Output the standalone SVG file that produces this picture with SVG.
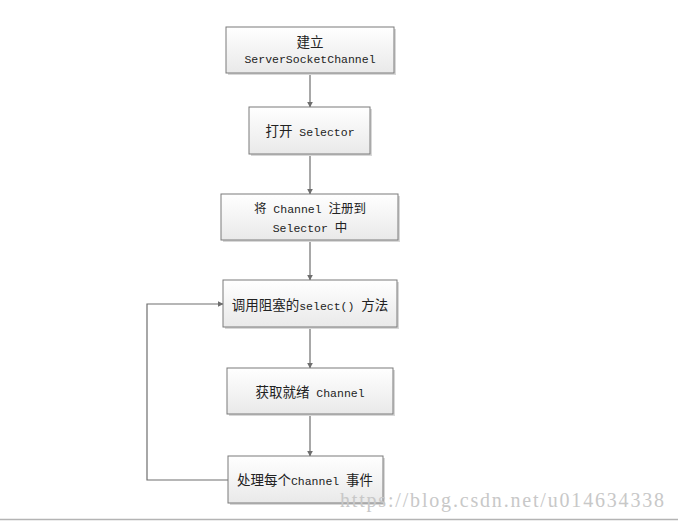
<svg xmlns="http://www.w3.org/2000/svg" width="678" height="521" viewBox="0 0 678 521">
  <style>
    .box { fill: url(#boxFill); stroke: #7a7a7a; stroke-width: 1; }
    .shadow { fill: #d8d8d8; }
    .lbl { font-family: "Liberation Mono", "Noto Sans CJK SC", monospace; font-size: 11.5px; fill: #222; text-anchor: middle; }
    .cjk { font-family: "Noto Sans CJK SC", sans-serif; font-size: 13.5px; }
    .cjk-s { font-family: "Noto Sans CJK SC", sans-serif; font-size: 12.5px; }
    .wire { fill: none; stroke: #6e6e6e; stroke-width: 1.2; }
    .mark { font-family: "Liberation Serif", "DejaVu Serif", serif; font-size: 20px; fill: #c8c8c8; }
  </style>
  <defs>
    <linearGradient id="boxFill" x1="0" y1="0" x2="0" y2="1">
      <stop offset="0" stop-color="#ffffff"/>
      <stop offset="1" stop-color="#e9e9e9"/>
    </linearGradient>
    <marker id="arrow" viewBox="0 0 10 10" refX="9" refY="5" markerWidth="6" markerHeight="6" orient="auto" markerUnits="userSpaceOnUse">
      <path d="M0,0 L10,5 L0,10 z" fill="#6e6e6e"/>
    </marker>
  </defs>

  <rect width="678" height="521" fill="#ffffff"/>

  <g id="connectors">
    <line class="wire" x1="310" y1="74" x2="310" y2="107" marker-end="url(#arrow)"/>
    <line class="wire" x1="310" y1="155" x2="310" y2="194" marker-end="url(#arrow)"/>
    <line class="wire" x1="310" y1="241" x2="310" y2="280" marker-end="url(#arrow)"/>
    <line class="wire" x1="310" y1="328" x2="310" y2="368" marker-end="url(#arrow)"/>
    <line class="wire" x1="310" y1="415" x2="310" y2="456" marker-end="url(#arrow)"/>
    <polyline class="wire" points="228,480 147,480 147,304 223,304" marker-end="url(#arrow)"/>
  </g>

  <g id="node-create">
    <rect class="shadow" x="228" y="29" width="168" height="46"/>
    <rect class="box" x="226" y="27" width="168" height="46"/>
    <text class="lbl" x="310" y="47"><tspan class="cjk">建立</tspan></text>
    <text class="lbl" x="310" y="63">ServerSocketChannel</text>
  </g>

  <g id="node-open">
    <rect class="shadow" x="251" y="109" width="121" height="47"/>
    <rect class="box" x="249" y="107" width="121" height="47"/>
    <text class="lbl" x="310" y="136"><tspan class="cjk">打开</tspan> Selector</text>
  </g>

  <g id="node-register">
    <rect class="shadow" x="223" y="196" width="177" height="46"/>
    <rect class="box" x="221" y="194" width="177" height="46"/>
    <text class="lbl" x="310" y="213"><tspan class="cjk-s">将</tspan> Channel <tspan class="cjk-s">注册到</tspan></text>
    <text class="lbl" x="310" y="232">Selector <tspan class="cjk-s">中</tspan></text>
  </g>

  <g id="node-select">
    <rect class="shadow" x="225" y="282" width="174" height="47"/>
    <rect class="box" x="223" y="280" width="174" height="47"/>
    <text class="lbl" x="310" y="310"><tspan class="cjk">调用阻塞的</tspan>select() <tspan class="cjk">方法</tspan></text>
  </g>

  <g id="node-ready">
    <rect class="shadow" x="229" y="370" width="166" height="46"/>
    <rect class="box" x="227" y="368" width="166" height="46"/>
    <text class="lbl" x="310" y="397"><tspan class="cjk">获取就绪</tspan> Channel</text>
  </g>

  <g id="node-handle">
    <rect class="shadow" x="230" y="458" width="155" height="47"/>
    <rect class="box" x="228" y="456" width="155" height="47"/>
    <text class="lbl" x="305" y="485"><tspan class="cjk">处理每个</tspan>Channel <tspan class="cjk">事件</tspan></text>
  </g>

  <text class="mark" x="340" y="507" textLength="324" lengthAdjust="spacing">https://blog.csdn.net/u014634338</text>
  <line x1="0" y1="519.5" x2="678" y2="519.5" stroke="#b4b4b4" stroke-width="1.5"/>
</svg>
